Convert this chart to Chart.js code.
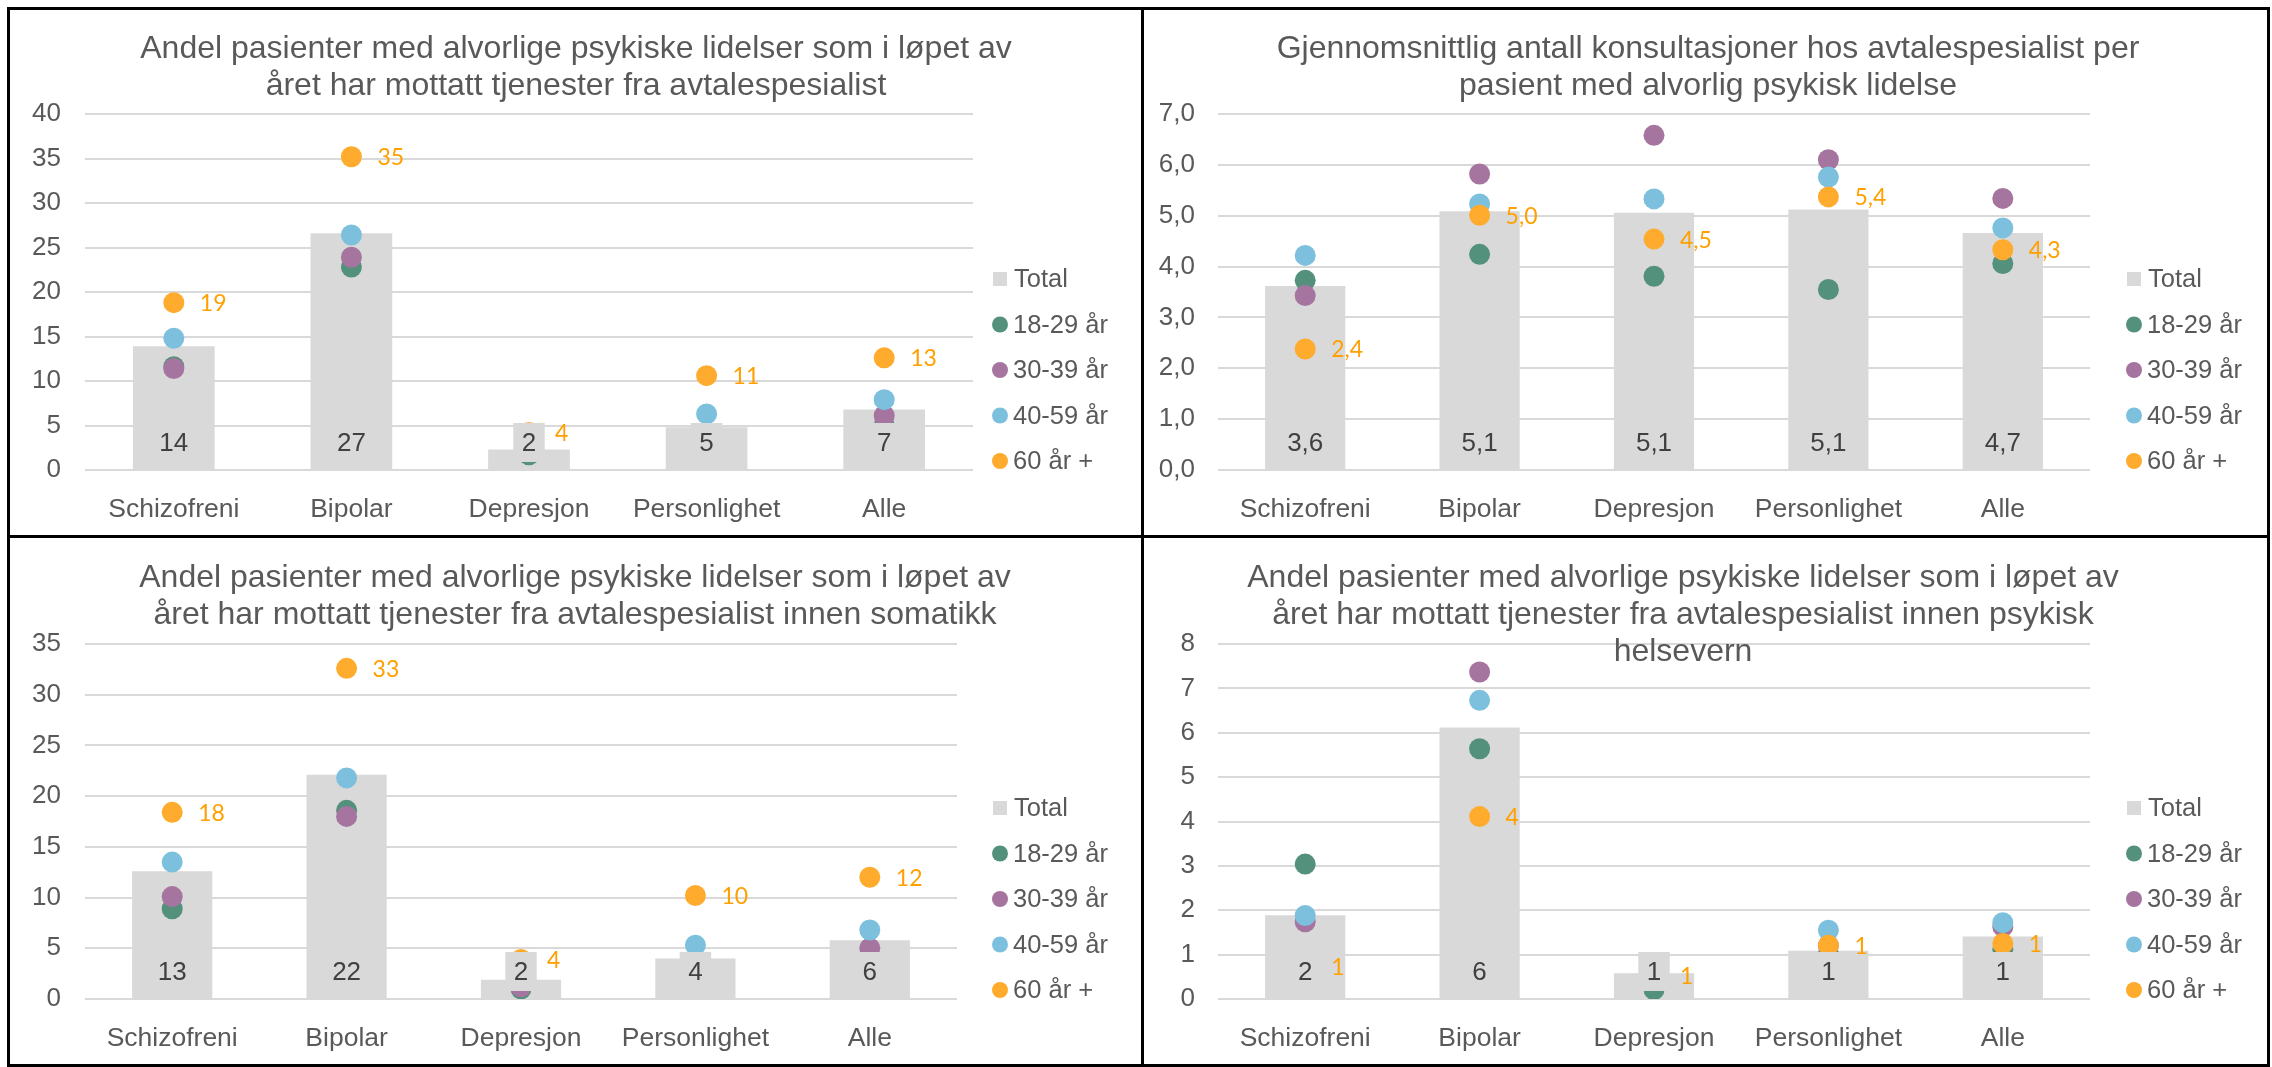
<!DOCTYPE html>
<html>
<head>
<meta charset="utf-8">
<script src="https://cdn.jsdelivr.net/npm/chart.js@4.4.1/dist/chart.umd.min.js"></script>
<style>
  html, body { margin: 0; padding: 0; background: #fff; }
  body { width: 2272px; height: 1067px; position: relative; overflow: hidden; }
  .line { position: absolute; background: #000; }
  canvas { position: absolute; }
</style>
</head>
<body>
<!-- ramme rundt de fire panelene -->
<div class="line" style="left:7px;top:7px;width:2263px;height:3px"></div>
<div class="line" style="left:7px;top:535px;width:2263px;height:3px"></div>
<div class="line" style="left:7px;top:1064px;width:2263px;height:3px"></div>
<div class="line" style="left:7px;top:7px;width:3px;height:1060px"></div>
<div class="line" style="left:1141px;top:7px;width:3px;height:1060px"></div>
<div class="line" style="left:2267px;top:7px;width:3px;height:1060px"></div>

<canvas id="c1" width="1131" height="525" style="left:10px;top:10px"></canvas>
<canvas id="c2" width="1123" height="525" style="left:1144px;top:10px"></canvas>
<canvas id="c3" width="1131" height="525" style="left:10px;top:539px"></canvas>
<canvas id="c4" width="1123" height="525" style="left:1144px;top:539px"></canvas>

<script>
// ========================================
// Data
// ========================================
const categories = ['Schizofreni', 'Bipolar', 'Depresjon', 'Personlighet', 'Alle'];
const seriesNames = ['Total', '18-29 år', '30-39 år', '40-59 år', '60 år +'];

// Andel med tjenester fra avtalespesialist
const total1 = [13.9, 26.6, 2.3, 4.8, 6.8];
const age18_1 = [11.6, 22.8, 1.7, 3.2, 5.0];
const age30_1 = [11.4, 23.9, 2.6, 4.0, 6.1];
const age40_1 = [14.8, 26.4, 3.4, 6.3, 7.9];
const age60_1 = [18.8, 35.2, 4.2, 10.6, 12.6];

// Gjennomsnittlig antall konsultasjoner
const total2 = [3.62, 5.09, 5.06, 5.12, 4.66];
const age18_2 = [3.73, 4.24, 3.81, 3.55, 4.06];
const age30_2 = [3.43, 5.82, 6.58, 6.10, 5.34];
const age40_2 = [4.22, 5.23, 5.33, 5.76, 4.76];
const age60_2 = [2.38, 5.01, 4.54, 5.37, 4.33];

// Innen somatikk
const total3 = [12.6, 22.1, 1.9, 4.0, 5.8];
const age18_3 = [8.9, 18.6, 1.0, 3.4, 4.2];
const age30_3 = [10.1, 18.0, 1.2, 3.8, 5.0];
const age40_3 = [13.5, 21.8, 2.6, 5.3, 6.8];
const age60_3 = [18.4, 32.6, 3.9, 10.2, 12.0];

// Innen psykisk helsevern
const total4 = [1.89, 6.12, 0.58, 1.09, 1.41];
const age18_4 = [3.04, 5.64, 0.21, 1.0, 1.12];
const age30_4 = [1.74, 7.37, 0.6, 1.2, 1.63];
const age40_4 = [1.88, 6.73, 0.7, 1.55, 1.72];
const age60_4 = [0.74, 4.11, 0.52, 1.21, 1.25];

// ========================================
// Stil
// ========================================
const GRAY = '#D9D9D9';
const COLORS = [GRAY, '#53917C', '#A575A0', '#7DC0DE', '#FFAB2E'];
const ORANGE_TEXT = '#FFA000';
const TEXT = '#595959';
const FONT = '"Liberation Sans", Arial, sans-serif';

function fmt(v, dec) {
  return v.toFixed(dec).replace('.', ',');
}

// titler, dataetiketter og forklaring tegnes her
function makeDecor(p) {
  return {
    id: 'decor',
    afterDatasetsDraw(chart) {
      const ctx = chart.ctx;
      const bottom = chart.chartArea.bottom;
      ctx.save();
      // Total-etiketter med grå bakgrunn
      ctx.font = '26px ' + FONT;
      ctx.textAlign = 'center';
      ctx.textBaseline = 'middle';
      chart.getDatasetMeta(0).data.forEach((el, i) => {
        const txt = fmt(chart.data.datasets[0].data[i], p.dec);
        const w = ctx.measureText(txt).width + 17;
        const h = 39;
        const cy = bottom - 27.5;
        ctx.fillStyle = GRAY;
        ctx.fillRect(el.x - w / 2, cy - h / 2, w, h);
        ctx.fillStyle = '#404040';
        ctx.fillText(txt, el.x, cy + 1);
      });
      // 60 år + etiketter
      ctx.font = '23px Lato, ' + FONT;
      ctx.textAlign = 'left';
      ctx.fillStyle = ORANGE_TEXT;
      chart.getDatasetMeta(4).data.forEach((pt, i) => {
        ctx.fillText(fmt(chart.data.datasets[4].data[i], p.dec), pt.x + 26, pt.y + 1);
      });
      ctx.restore();
    },
    afterDraw(chart) {
      const ctx = chart.ctx;
      ctx.save();
      // tittel
      ctx.font = '32px ' + FONT;
      ctx.fillStyle = TEXT;
      ctx.textAlign = 'center';
      ctx.textBaseline = 'alphabetic';
      p.title.forEach((t, i) => ctx.fillText(t, p.titleX, 48 + 37 * i));
      // forklaring
      ctx.font = '25.5px ' + FONT;
      ctx.textAlign = 'left';
      ctx.textBaseline = 'middle';
      seriesNames.forEach((name, i) => {
        const y = 269 + 45.5 * i;
        ctx.fillStyle = COLORS[i];
        if (i === 0) {
          ctx.fillRect(990 - 7, y - 7, 14, 14);
        } else {
          ctx.beginPath();
          ctx.arc(990, y, 8, 0, Math.PI * 2);
          ctx.fill();
        }
        ctx.fillStyle = TEXT;
        ctx.fillText(name, i === 0 ? 1004 : 1003, y + 1);
      });
      ctx.restore();
    }
  };
}

function makePanel(id, p) {
  const canvas = document.getElementById(id);
  const W = canvas.width, H = canvas.height;
  const a = p.area;
  const pointSet = (label, data, color, order) => ({
    type: 'line',
    label: label,
    data: data,
    showLine: false,
    backgroundColor: color,
    borderColor: color,
    pointRadius: 10.5,
    pointHoverRadius: 10.5,
    pointBorderWidth: 0,
    order: order
  });
  new Chart(canvas, {
    type: 'bar',
    data: {
      labels: categories,
      datasets: [
        {
          label: seriesNames[0],
          data: p.series[0],
          backgroundColor: GRAY,
          borderWidth: 0,
          barPercentage: 0.46,
          categoryPercentage: 1,
          order: 5
        },
        pointSet(seriesNames[1], p.series[1], COLORS[1], 4),
        pointSet(seriesNames[2], p.series[2], COLORS[2], 3),
        pointSet(seriesNames[3], p.series[3], COLORS[3], 2),
        pointSet(seriesNames[4], p.series[4], COLORS[4], 1)
      ]
    },
    options: {
      responsive: false,
      animation: false,
      events: [],
      layout: { padding: { left: 0, top: a.t, right: W - a.r, bottom: 0 } },
      plugins: { legend: { display: false }, title: { display: false }, tooltip: { enabled: false } },
      scales: {
        x: {
          grid: { display: false },
          border: { display: false },
          ticks: { color: TEXT, font: { family: FONT, size: 26.5 }, padding: 16 },
          afterFit: s => { s.height = H - a.b; }
        },
        y: {
          min: 0,
          max: p.max,
          grid: { color: GRAY, lineWidth: 2, drawTicks: false },
          border: { display: false },
          ticks: {
            stepSize: p.step,
            color: TEXT,
            font: { family: FONT, size: 26 },
            padding: a.l - 51,
            callback: v => fmt(v, p.dec)
          },
          afterFit: s => { s.width = a.l; }
        }
      }
    },
    plugins: [makeDecor(p)]
  });
}

makePanel('c1', {
  series: [total1, age18_1, age30_1, age40_1, age60_1],
  max: 40, step: 5, dec: 0,
  area: { l: 75, r: 963, t: 104, b: 460 },
  titleX: 566,
  title: ['Andel pasienter med alvorlige psykiske lidelser som i løpet av',
          'året har mottatt tjenester fra avtalespesialist']
});

makePanel('c2', {
  series: [total2, age18_2, age30_2, age40_2, age60_2],
  max: 7, step: 1, dec: 1,
  area: { l: 74, r: 946, t: 104, b: 460 },
  titleX: 564,
  title: ['Gjennomsnittlig antall konsultasjoner hos avtalespesialist per',
          'pasient med alvorlig psykisk lidelse']
});

makePanel('c3', {
  series: [total3, age18_3, age30_3, age40_3, age60_3],
  max: 35, step: 5, dec: 0,
  area: { l: 75, r: 947, t: 105, b: 460 },
  titleX: 565,
  title: ['Andel pasienter med alvorlige psykiske lidelser som i løpet av',
          'året har mottatt tjenester fra avtalespesialist innen somatikk']
});

makePanel('c4', {
  series: [total4, age18_4, age30_4, age40_4, age60_4],
  max: 8, step: 1, dec: 0,
  area: { l: 74, r: 946, t: 105, b: 460 },
  titleX: 539,
  title: ['Andel pasienter med alvorlige psykiske lidelser som i løpet av',
          'året har mottatt tjenester fra avtalespesialist innen psykisk',
          'helsevern']
});
</script>
</body>
</html>
